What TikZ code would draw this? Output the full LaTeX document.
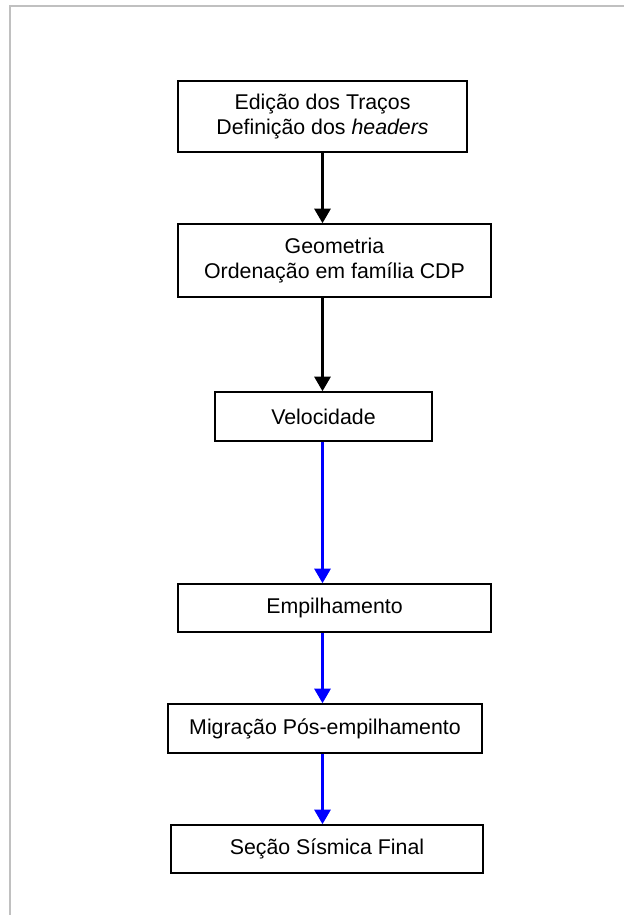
\documentclass[tikz,border=0pt]{standalone}
\usepackage{fontspec}
\setmainfont{Liberation Sans}
\usetikzlibrary{arrows.meta, positioning, calc}
\definecolor{moldura}{HTML}{C0C0C0}
\definecolor{azulfluxo}{HTML}{0000FF}

\tikzset{
  etapa/.style={draw, line width=1.1pt, inner sep=0pt, align=center,
    font=\fontsize{16}{18.4}\selectfont},
  fluxo/.style={line width=2.3pt, -{Triangle[length=11pt, width=12pt]}}
}

\begin{document}
\begin{tikzpicture}[x=0.75pt, y=-0.75pt, line join=miter]
      \useasboundingbox (0,0) rectangle (624,915);

      % Moldura cinza
      \draw[line width=1.5pt, moldura] (10,915) -- (10,6) -- (624,6);

      % Eixo das setas
      \coordinate (eixo) at (322.5,0);

      % Etapas do processamento
      \node[etapa, minimum width=216.75pt, minimum height=53.25pt] (edicao) at (322.5,116.5) {Edição dos Traços\\Definição dos \textit{headers}};
      \node[etapa, minimum width=234.75pt, minimum height=54.75pt] (geometria) at (334.5,260.5) {Geometria\\Ordenação em família CDP};
      \node[etapa, minimum width=162.75pt, minimum height=36.75pt] (velocidade) at (323.5,416.5) {Velocidade};
      \node[etapa, minimum width=234.75pt, minimum height=36pt] (empilhamento) at (334.5,608) {Empilhamento};
      \node[etapa, minimum width=235.5pt, minimum height=36.75pt] (migracao) at (325,728.5) {Migração Pós-empilhamento};
      \node[etapa, minimum width=234pt, minimum height=36pt] (secao) at (327,849) {Seção Sísmica Final};

      % Setas pretas
      \draw[fluxo] (edicao.south -| eixo) -- (geometria.north -| eixo);
      \draw[fluxo] (geometria.south -| eixo) -- (velocidade.north -| eixo);

      % Setas azuis
      \draw[fluxo, azulfluxo] (velocidade.south -| eixo) -- (empilhamento.north -| eixo);
      \draw[fluxo, azulfluxo] (empilhamento.south -| eixo) -- (migracao.north -| eixo);
      \draw[fluxo, azulfluxo] (migracao.south -| eixo) -- (secao.north -| eixo);
    \end{tikzpicture}
\end{document}
